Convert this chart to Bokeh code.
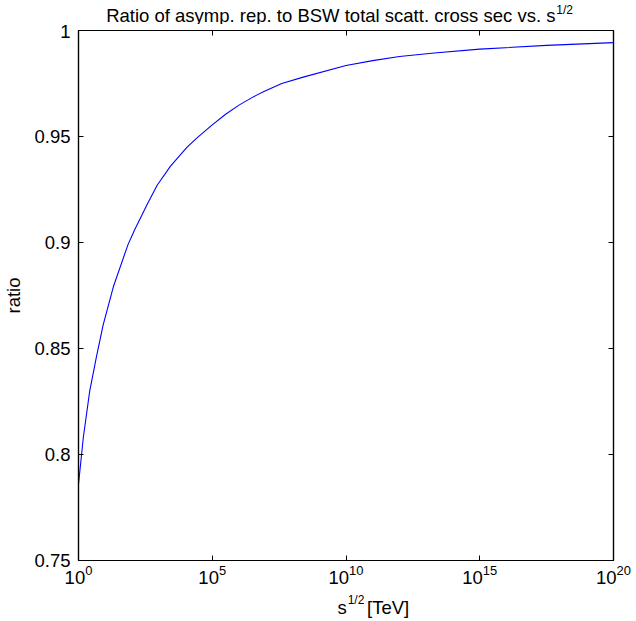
from bokeh.plotting import figure
from bokeh.layouts import column
from bokeh.models import (Range1d, LinearAxis, LogAxis, FixedTicker, Label,
                          CustomJSTickFormatter, LogTickFormatter)
from bokeh.embed import file_html
from bokeh.resources import INLINE

# ---- data ----
log10_sqrt_s = [0.0, 0.18, 0.42, 0.67, 0.92, 1.3, 1.85, 2.1, 2.57, 2.94, 3.44,
                4.06, 4.44, 5.0, 5.5, 6.0, 6.55, 6.93, 7.6, 8.4, 10.0, 11.0,
                12.0, 13.3, 15.0, 17.5, 20.0]
ratio = [0.786, 0.808, 0.830, 0.846, 0.861, 0.879, 0.899, 0.906, 0.918, 0.927,
         0.936, 0.945, 0.9495, 0.9555, 0.9605, 0.9648, 0.9688, 0.9712, 0.975,
         0.978, 0.9835, 0.9858, 0.9877, 0.9894, 0.9912, 0.9930, 0.9943]
x_tick_exponents = [0, 5, 10, 15, 20]
y_ticks = [0.75, 0.8, 0.85, 0.9, 0.95, 1.0]
y_tick_labels = ["0.75", "0.8", "0.85", "0.9", "0.95", "1"]
title_text = "Ratio of asymp. rep. to BSW total scatt. cross sec vs. s"
title_sup = "1/2"
xlabel_base = "s"
xlabel_sup = "1/2"
xlabel_rest = "[TeV]"
ylabel_text = "ratio"

FONT = "Liberation Sans"
FS = "18.5px"
SUP = "12px"
W = 636

x_vals = [10.0 ** e for e in log10_sqrt_s]
x_ticks = [10.0 ** e for e in x_tick_exponents]


def text_strip(h):
    f = figure(width=W, height=h, x_range=Range1d(0, W), y_range=Range1d(0, h),
               output_backend="svg", toolbar_location=None, min_border=0,
               x_axis_location=None, y_axis_location=None)
    f.grid.visible = False
    f.outline_line_color = None
    f.border_fill_color = "white"
    return f


def add_text(f, x, y, text, size, align):
    f.add_layout(Label(x=x, y=y, text=text, text_align=align,
                       text_baseline="alphabetic", text_font=FONT,
                       text_font_size=size, text_color="black"))


# ---- title strip ----
TH = 24
TOP_BORDER = 6
title_fig = text_strip(TH)
add_text(title_fig, 567, 9, title_text, FS, "right")
add_text(title_fig, 568, 15, title_sup, SUP, "left")

# ---- main plot ----
BOTTOM_BORDER = 32
p = figure(frame_width=535, frame_height=530, x_axis_type="log",
           x_range=Range1d(1, 1e20), y_range=Range1d(0.75, 1.0),
           output_backend="svg", toolbar_location=None,
           min_border_left=78, min_border_right=23, min_border_top=TOP_BORDER,
           min_border_bottom=BOTTOM_BORDER)
p.grid.visible = False
p.outline_line_color = "black"
p.outline_line_width = 1.2
p.background_fill_color = "white"
p.border_fill_color = "white"

p.line(x_vals, ratio, line_color="#0000ff", line_width=1.1)

bottom = p.below[0]
left = p.left[0]
bottom.ticker = FixedTicker(ticks=x_ticks, minor_ticks=[])
bottom.formatter = LogTickFormatter()
left.ticker = FixedTicker(ticks=y_ticks, minor_ticks=[])
left.formatter = CustomJSTickFormatter(
    args=dict(tvals=y_ticks, tlabels=y_tick_labels),
    code="const i = tvals.findIndex(t => Math.abs(t - tick) < 1e-9); return i >= 0 ? tlabels[i] : '';")
left.axis_label = ylabel_text
left.axis_label_text_font = FONT
left.axis_label_text_font_size = FS
left.axis_label_text_font_style = "normal"
left.axis_label_text_color = "black"
left.axis_label_standoff = 7

blank = CustomJSTickFormatter(code="return '';")
top = LogAxis(ticker=FixedTicker(ticks=x_ticks, minor_ticks=[]), formatter=blank,
              major_label_standoff=0)
right = LinearAxis(ticker=FixedTicker(ticks=y_ticks, minor_ticks=[]), formatter=blank,
                   major_label_standoff=0)
p.add_layout(top, "above")
p.add_layout(right, "right")

for ax in [bottom, left, top, right]:
    ax.major_tick_in = 5
    ax.major_tick_out = 0
    ax.minor_tick_in = 0
    ax.minor_tick_out = 0
    ax.axis_line_color = "black"
    ax.axis_line_width = 1.2
    ax.major_tick_line_color = "black"
    ax.major_tick_line_width = 1
    ax.major_label_text_font = FONT
    ax.major_label_text_color = "black"
for ax in [bottom, left]:
    ax.major_label_text_font_size = FS
bottom.major_label_standoff = 4
left.major_label_standoff = 8

# ---- x-axis label strip ----
XH = 621 - TH - (TOP_BORDER + 530 + BOTTOM_BORDER)
xlab_fig = text_strip(XH)
add_text(xlab_fig, 319, 14, xlabel_base, FS, "right")
add_text(xlab_fig, 320, 22, xlabel_sup, SUP, "left")
add_text(xlab_fig, 343, 14, xlabel_rest, FS, "left")

layout = column(title_fig, p, xlab_fig, spacing=0)
open("out.html", "w").write(file_html(layout, INLINE))
